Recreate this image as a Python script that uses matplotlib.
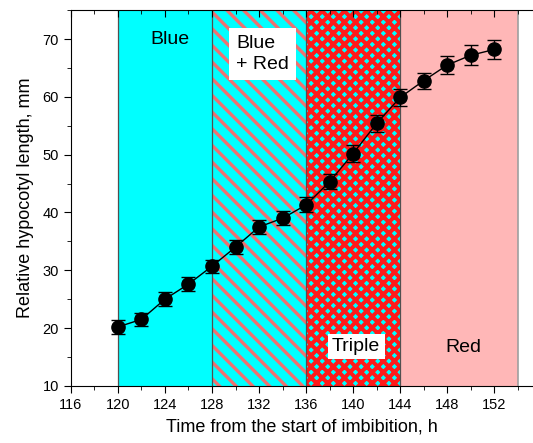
import matplotlib
matplotlib.use("Agg")
import matplotlib.pyplot as plt
from matplotlib.ticker import MultipleLocator

plt.rcParams['font.family'] = ['Liberation Sans', 'DejaVu Sans']

hours = [120, 122, 124, 126, 128, 130, 132, 134, 136, 138, 140, 142, 144, 146, 148, 150, 152]
length = [20.2, 21.5, 25.0, 27.6, 30.7, 34.0, 37.5, 39.0, 41.3, 45.3, 50.2, 55.4, 59.9, 62.8, 65.5, 67.2, 68.2]
errors = [1.2, 1.1, 1.2, 1.2, 1.1, 1.2, 1.2, 1.2, 1.3, 1.3, 1.4, 1.5, 1.5, 1.4, 1.5, 1.7, 1.6]

regions = [(120, 128), (128, 136), (136, 144), (144, 154)]
region_labels = ["Blue", "Blue\n+ Red", "Triple", "Red"]

fig = plt.figure(figsize=(5.33, 4.43), dpi=100)
ax = fig.add_axes([0.133, 0.129, 0.867, 0.848])

cyan = '#00FFFF'
ax.axvspan(*regions[0], facecolor=cyan, linewidth=0, zorder=0)
plt.rcParams['hatch.linewidth'] = 2.4
ax.axvspan(*regions[1], facecolor=cyan, edgecolor='#F07070', hatch='\\\\', linewidth=0, zorder=0)
plt.rcParams['hatch.linewidth'] = 2.9
ax.axvspan(*regions[2], facecolor=cyan, edgecolor='#FF1A1A', hatch='xxx', linewidth=0, zorder=0)
ax.axvspan(*regions[3], facecolor='#FFB7B7', linewidth=0, zorder=0)
for x in [120, 128, 136, 144]:
    ax.axvline(x, color='#505050', lw=0.9, zorder=1)
ax.axvline(154, color='#A0A0A0', lw=1.2, zorder=1)

ax.errorbar(hours, length, yerr=errors, fmt='-o', color='black', ms=9.5, lw=1,
            capsize=5, elinewidth=1, capthick=1, zorder=3)

ax.text(124.4, 70, region_labels[0], fontsize=14, ha='center', va='center', zorder=4)
ax.text(130.05, 67.4, region_labels[1], fontsize=14, ha='left', va='center', zorder=4,
        linespacing=1.25,
        bbox=dict(facecolor='white', edgecolor='none', boxstyle='square,pad=0.38'))
ax.text(140.26, 16.8, region_labels[2], fontsize=14, ha='center', va='center', zorder=4,
        bbox=dict(facecolor='white', edgecolor='none', boxstyle='square,pad=0.22'))
ax.text(149.4, 16.6, region_labels[3], fontsize=14, ha='center', va='center', zorder=4)

ax.set_xlim(116, 155.3)
ax.set_ylim(10, 75)
ax.spines['right'].set_visible(False)
ax.xaxis.set_major_locator(MultipleLocator(4))
ax.xaxis.set_minor_locator(MultipleLocator(2))
ax.yaxis.set_major_locator(MultipleLocator(10))
ax.yaxis.set_minor_locator(MultipleLocator(5))
ax.tick_params(which='both', direction='out', labelsize=10.5, right=False)
ax.tick_params(which='major', length=5)
ax.tick_params(which='minor', length=3)
ax.tick_params(axis='x', which='both', top=True, labeltop=False)
for t in ax.xaxis.get_major_ticks() + ax.xaxis.get_minor_ticks():
    t.tick2line.set_marker(3)  # inward ticks on top

ax.set_xlabel("Time from the start of imbibition, h", fontsize=13, labelpad=5)
ax.set_ylabel("Relative hypocotyl length, mm", fontsize=13, labelpad=6)

fig.savefig("out.png", dpi=100)
